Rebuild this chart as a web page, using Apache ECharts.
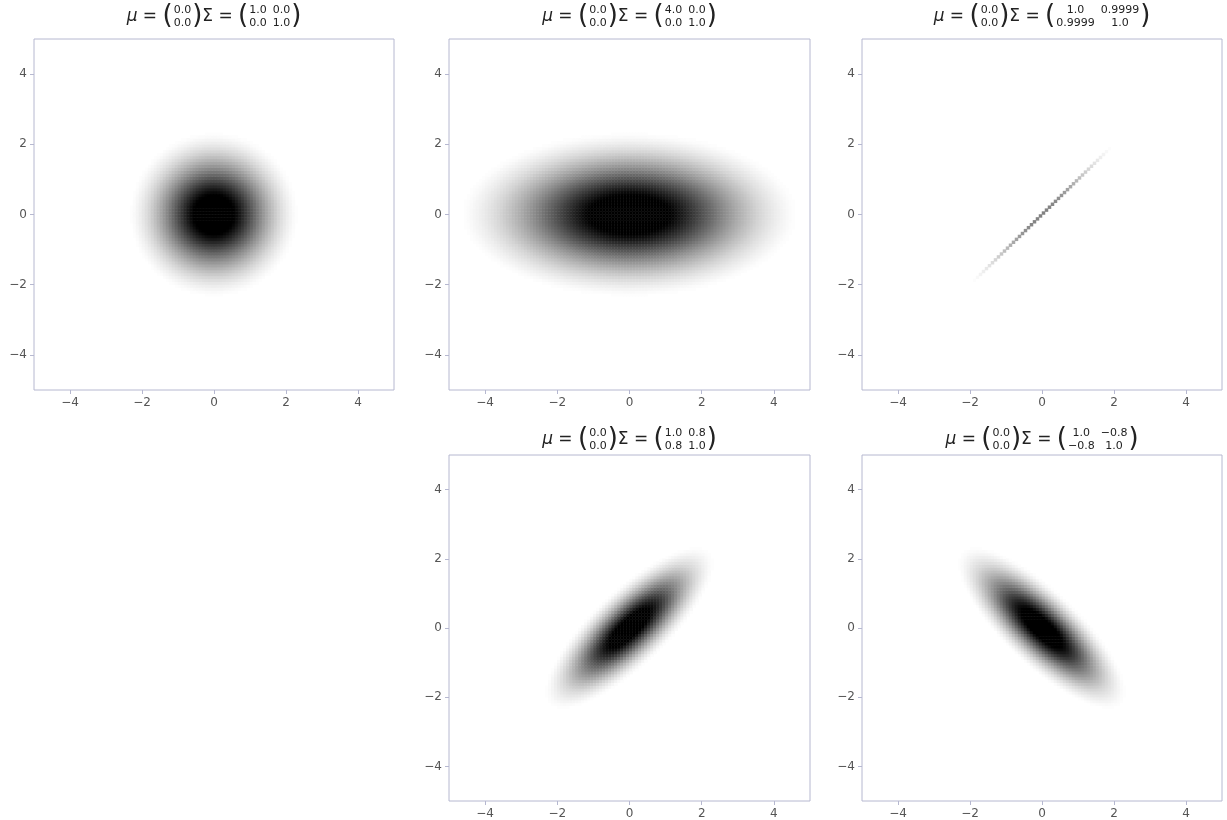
<!DOCTYPE html>
<html><head><meta charset="utf-8">
<script src="https://cdn.jsdelivr.net/npm/echarts@6/dist/echarts.min.js"></script>
<style>html,body{margin:0;padding:0;background:#fff}#c{width:1227px;height:820px}</style>
</head><body><div id="c"></div>
<script>
// ---- data ----
const means = [[0.0, 0.0], [0.0, 0.0], [0.0, 0.0], [0.0, 0.0], [0.0, 0.0]];
const covariances = [
  [[1.0, 0.0], [0.0, 1.0]],
  [[4.0, 0.0], [0.0, 1.0]],
  [[1.0, 0.9999], [0.9999, 1.0]],
  [[1.0, 0.8], [0.8, 1.0]],
  [[1.0, -0.8], [-0.8, 1.0]]
];
const meanLabels = [["0.0","0.0"],["0.0","0.0"],["0.0","0.0"],["0.0","0.0"],["0.0","0.0"]];
const covLabels = [
  [["1.0","0.0"],["0.0","1.0"]],
  [["4.0","0.0"],["0.0","1.0"]],
  [["1.0","0.9999"],["0.9999","1.0"]],
  [["1.0","0.8"],["0.8","1.0"]],
  [["1.0","\u22120.8"],["\u22120.8","1.0"]]
];
const tickValues = [-4, -2, 0, 2, 4];
const axisRange = [-5, 5];
const gridSize = 120;

// ---- style / layout ----
const panels = [
  {left: 34,  top: 39,  width: 360, height: 351},
  {left: 449, top: 39,  width: 361, height: 351},
  {left: 862, top: 39,  width: 360, height: 351},
  {left: 449, top: 455, width: 361, height: 348},
  {left: 862, top: 455, width: 360, height: 348}
];
const titleCenterY = [17, 17, 17, 440, 440];
const displayMaxScale = [1, 1, 2.2, 1, 1];
const frameColor = '#b6b8d0';
const FONT = 'DejaVu Sans';
const lowCut = 0.07, highCut = 0.85;

// grey ramp (white -> black)
const ramp = [];
for (let s = 0; s <= 50; s++) {
  const v = s / 50;
  const t = Math.min(1, Math.max(0, (v - lowCut) / (highCut - lowCut)));
  const g = Math.round(255 * (1 - t));
  ramp.push('rgb(' + g + ',' + g + ',' + g + ')');
}

function pdf(x, y, mu, S) {
  const a = S[0][0], b = S[0][1], c = S[1][0], d = S[1][1];
  const det = a * d - b * c;
  const dx = x - mu[0], dy = y - mu[1];
  const q = (d * dx * dx - (b + c) * dx * dy + a * dy * dy) / det;
  return Math.exp(-0.5 * q) / (2 * Math.PI * Math.sqrt(det));
}

const cats = [];
for (let i = 0; i < gridSize; i++) cats.push(i);
const step = (axisRange[1] - axisRange[0]) / gridSize;

const fmt = v => (tickValues.indexOf(v) < 0 ? '' : (v < 0 ? '\u2212' + (-v) : String(v)));

const grids = [], xAxes = [], yAxes = [], series = [], visualMaps = [], graphics = [];
panels.forEach((p, k) => {
  grids.push({left: p.left, top: p.top, width: p.width, height: p.height, show: true,
    borderColor: frameColor, borderWidth: 1, backgroundColor: 'rgba(0,0,0,0)'});
  const common = () => ({
    type: 'value', gridIndex: k, min: axisRange[0], max: axisRange[1],
    axisLine: {show: false, onZero: false}, splitLine: {show: false},
    axisTick: {show: true, length: 4, customValues: tickValues, lineStyle: {color: frameColor}},
    axisLabel: {customValues: tickValues, formatter: fmt, color: '#555', fontSize: 12, fontFamily: FONT, margin: 7}
  });
  xAxes.push(Object.assign(common(), {position: 'bottom'}));
  xAxes.push({type: 'category', gridIndex: k, data: cats, show: false, boundaryGap: true, axisLine: {onZero: false}});
  yAxes.push(Object.assign(common(), {position: 'left'}));
  yAxes.push({type: 'category', gridIndex: k, data: cats, show: false, boundaryGap: true, axisLine: {onZero: false}});

  const data = [];
  let maxv = 0;
  const vals = [];
  for (let i = 0; i < gridSize; i++) {
    const x = axisRange[0] + (i + 0.5) * step;
    for (let j = 0; j < gridSize; j++) {
      const y = axisRange[0] + (j + 0.5) * step;
      const v = pdf(x, y, means[k], covariances[k]);
      vals.push([i, j, v]);
      if (v > maxv) maxv = v;
    }
  }
  const vmax = maxv * displayMaxScale[k];
  vals.forEach(d => { if (d[2] > vmax * lowCut) data.push(d); });
  series.push({type: 'heatmap', xAxisIndex: 2 * k + 1, yAxisIndex: 2 * k + 1, data: data,
    progressive: 0, animation: false, emphasis: {disabled: true}, silent: true});
  visualMaps.push({type: 'continuous', show: false, seriesIndex: k, dimension: 2,
    min: 0, max: vmax, inRange: {color: ramp}});
});

// ---- titles ----
const cctx = document.createElement('canvas').getContext('2d');
function tw(t, f) { cctx.font = f; return cctx.measureText(t).width; }
const bigF = '17px "' + FONT + '"';
const itF = 'italic 17px "' + FONT + '"';
const parF = '26px "' + FONT + '"';
const smF = '11px "' + FONT + '"';
const tcol = '#222';

panels.forEach((p, k) => {
  const items = [];
  let x = 0;
  function addText(t, font, dy) {
    items.push({type: 'text', x: x, y: dy || 0, style: {text: t, font: font, fill: tcol, textVerticalAlign: 'middle', textAlign: 'left'}});
    x += tw(t, font);
  }
  function addCol(lines) {
    const w = Math.max(tw(lines[0], smF), tw(lines[1], smF));
    items.push({type: 'text', x: x + w / 2, y: -6.5, style: {text: lines[0], font: smF, fill: tcol, textVerticalAlign: 'middle', textAlign: 'center'}});
    items.push({type: 'text', x: x + w / 2, y: 6.5, style: {text: lines[1], font: smF, fill: tcol, textVerticalAlign: 'middle', textAlign: 'center'}});
    x += w;
  }
  addText('\u03bc', itF);
  addText(' = ', bigF);
  addText('(', parF, -1); x += 1;
  addCol(meanLabels[k]);
  x += 1; addText(')', parF, -1);
  addText('\u03a3 = ', bigF);
  addText('(', parF, -1); x += 1;
  const cl = covLabels[k];
  addCol([cl[0][0], cl[1][0]]);
  x += 6;
  addCol([cl[0][1], cl[1][1]]);
  x += 1; addText(')', parF, -1);
  const cx = p.left + p.width / 2;
  graphics.push({type: 'group', x: cx - x / 2, y: titleCenterY[k], children: items, silent: true});
});

const chart = echarts.init(document.getElementById('c'), null, {renderer: 'canvas'});
chart.setOption({
  animation: false,
  backgroundColor: '#ffffff',
  grid: grids, xAxis: xAxes, yAxis: yAxes,
  visualMap: visualMaps, series: series, graphic: graphics
});
</script>
</body></html>
